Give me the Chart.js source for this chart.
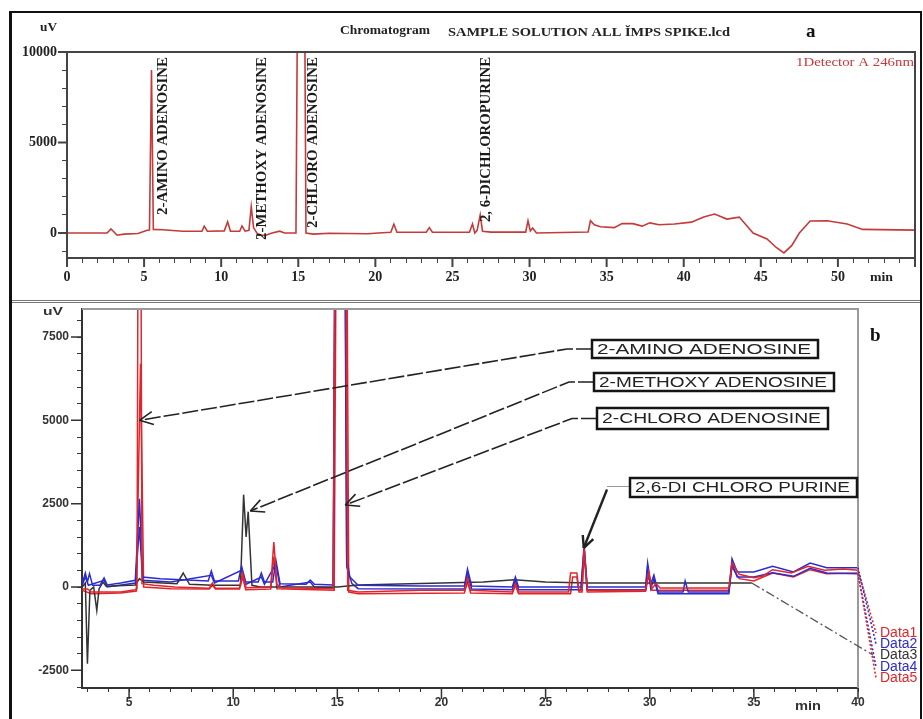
<!DOCTYPE html>
<html>
<head>
<meta charset="utf-8">
<script src="https://cdn.jsdelivr.net/npm/chart.js@4.4.1/dist/chart.umd.min.js"></script>
<style>
  html, body { margin: 0; padding: 0; background: #fff; }
  #wrap { position: relative; width: 923px; height: 719px; overflow: hidden; }
  #wrap canvas { position: absolute; left: 0; top: 0; }
  .frame { position: absolute; left: 9px; top: 11px; width: 913px; height: 730px; border: 2px solid #111; border-left-width: 3px; box-sizing: border-box; }
  .divider { position: absolute; left: 12px; top: 300px; width: 908px; height: 1px; border-top: 1px solid #777; border-bottom: 1px solid #777; }
</style>
</head>
<body>
<div id="wrap">
  <div class="frame"></div>
  <div class="divider"></div>
  <canvas id="chartA" width="923" height="719"></canvas>
  <canvas id="chartB" width="923" height="719"></canvas>
</div>
<script>
// ---- panel a : single detector trace (min, uV) ----
const aTrace = [
  [0, 0], [2.6, 0], [2.85, 230], [3.05, 60], [3.25, -120], [3.7, -60], [4.6, -30], [5.2, 150], [5.35, 170], [5.48, 9000], [5.6, 200],
  [6.2, 180], [7.5, 100], [8.75, 100], [8.9, 380], [9.1, 100], [10.2, 120], [10.42, 620], [10.6, 100], [11.2, 100], [11.35, 390], [11.55, 100],
  [11.8, 150], [11.95, 1450], [12.1, 300], [12.4, -120], [12.9, -120], [13.3, 0], [13.8, 100], [14.1, 0],
  [14.85, 0], [15.2, 45000], [15.5, 0], [16.0, -60], [17.0, -10], [19.5, -40], [20.2, 0], [21.0, 40], [21.2, 480], [21.4, 40],
  [23.3, 40], [23.5, 300], [23.7, 40], [26.1, 40], [26.3, 500], [26.45, 0], [26.6, 150], [26.8, 1000], [26.95, 100], [27.5, 50], [28.6, 50],
  [29.75, 50], [29.9, 680], [30.05, 120], [30.2, 280], [30.45, 0], [33.8, 60], [33.95, 680], [34.2, 450], [34.6, 350], [35.5, 300],
  [36.0, 520], [36.7, 520], [37.3, 380], [37.8, 560], [38.4, 460], [39.4, 500], [40.5, 600], [41.3, 880], [42.0, 1050], [42.8, 770],
  [43.6, 880], [44.5, 0], [45.4, -330], [46.0, -800], [46.5, -1100], [47.0, -700], [47.5, 0], [48.2, 660], [49.3, 680], [50.6, 500],
  [51.6, 200], [55, 160]
];
const aXTicks = [0,1,2,3,4,5,6,7,8,9,10,11,12,13,14,15,16,17,18,19,20,21,22,23,24,25,26,27,28,29,30,31,32,33,34,35,36,37,38,39,40,41,42,43,44,45,46,47,48,49,50,51,52,53,54,55];
const aYTicks = [-1000, 0, 1000, 2000, 3000, 4000, 5000, 6000, 7000, 8000, 9000, 10000];
const aPeakNames = ['2-AMINO ADENOSINE', '2-METHOXY ADENOSINE', '2-CHLORO ADENOSINE', '2, 6-DICHLOROPURINE'];

// ---- panel b : five overlaid runs (min, uV) ----
const bData1 = [
  [2.75, -60], [3.0, -60], [3.2, -150], [4.6, -150], [5.3, -80], [5.38, -50], [5.5, 25000], [5.62, 100], [6.2, 50], [7.2, 0],
  [8.85, -40], [9.0, 120], [9.15, -40], [10.3, -40], [10.45, 420], [10.62, -20], [11.8, 0], [11.95, 1350], [12.1, 80], [12.3, -20],
  [14.8, -50], [15.15, 40000], [15.5, -100], [16.0, -150], [19.0, -100], [21.1, -100], [21.25, 270], [21.4, -100], [23.4, -150],
  [23.55, 100], [23.7, -150], [26.1, -150], [26.2, 420], [26.5, 420], [26.6, -100], [26.75, -100], [26.85, 1200], [27.0, -100],
  [29.8, -90], [29.95, 450], [30.1, -50], [30.3, 100], [30.5, -30], [33.8, -30], [33.95, 720], [34.3, 380], [35.0, 280], [35.4, 320],
  [35.9, 520], [36.8, 420], [37.6, 620], [38.4, 500], [39.3, 540], [40, 500]
];
const bData2 = [
  [2.75, 100], [2.9, 420], [3.0, 150], [3.1, 400], [3.25, 50], [3.6, 50], [3.8, 270], [3.95, 60], [4.6, 120], [5.3, 200], [5.5, 2650],
  [5.65, 300], [6.5, 250], [8.8, 180], [8.95, 480], [9.1, 180], [10.25, 180], [10.4, 630], [10.6, 150], [11.2, 150], [11.35, 420],
  [11.5, 150], [11.9, 150], [12.05, 800], [12.25, 100], [13.5, 80], [13.7, 210], [13.9, 80], [14.8, 60], [15.15, 40000], [15.45, 880],
  [15.6, 300], [16.0, 50], [19.0, 30], [21.1, 30], [21.25, 540], [21.45, 30], [23.4, 0], [23.55, 300], [23.7, 0], [26.7, 0],
  [26.85, 1250], [27.0, 0], [29.8, 0], [29.9, 720], [30.05, 100], [30.2, 360], [30.4, -150], [31.6, -150], [31.7, 180], [31.85, -150],
  [33.8, -150], [33.95, 850], [34.2, 450], [35.0, 450], [35.9, 620], [36.9, 450], [37.7, 720], [38.5, 580], [40, 580]
];
const bData3 = [
  [2.75, 0], [2.9, 120], [3.0, -2300], [3.12, -100], [3.3, 0], [3.45, -700], [3.56, -50], [3.75, 150], [3.9, 20], [5.3, 60],
  [5.5, 250], [5.7, 150], [7.3, 100], [7.6, 420], [7.9, 80], [9.0, 50], [10.35, 50], [10.5, 2770], [10.62, 1500], [10.72, 2260],
  [10.9, 50], [11.3, 0], [15.0, 0], [16.0, 60], [20.0, 120], [22.0, 150], [23.5, 220], [25.0, 150], [27.0, 120], [30.0, 120],
  [34.0, 120], [34.9, 120]
];
const bData4 = [
  [2.75, 50], [2.9, 300], [3.05, 50], [3.8, 200], [3.95, 0], [5.3, 120], [5.5, 1800], [5.65, 200], [7.0, 150], [8.95, 350], [9.1, 120],
  [10.4, 500], [10.6, 80], [11.35, 300], [11.5, 80], [12.05, 700], [12.25, 0], [13.7, 150], [13.9, 0], [14.8, -30], [15.1, 40000],
  [15.45, 600], [15.7, 100], [16.0, -50], [21.1, -60], [21.25, 400], [21.45, -60], [23.4, -80], [23.55, 200], [23.7, -80], [26.7, -80],
  [26.85, 1150], [27.0, -80], [29.8, -80], [29.9, 600], [30.05, -50], [30.2, 250], [30.4, -200], [33.8, -200], [33.95, 700], [34.2, 300],
  [35.0, 300], [35.9, 430], [36.9, 320], [37.7, 560], [38.5, 420], [40, 400]
];
const bData5 = [
  [2.75, -100], [3.2, -200], [4.6, -180], [5.35, -120], [5.55, 6700], [5.7, 0], [7.0, -50], [8.85, -60], [9.0, 50], [9.15, -60],
  [10.3, -60], [10.45, 300], [10.6, -80], [11.8, -60], [11.95, 900], [12.1, -50], [14.85, -100], [15.2, 40000], [15.55, -150],
  [16.0, -200], [21.1, -180], [21.25, 150], [21.4, -180], [23.4, -200], [23.55, 50], [23.7, -200], [26.2, -200], [26.3, 300],
  [26.5, 300], [26.6, -150], [26.75, -150], [26.85, 1000], [27.0, -150], [29.8, -130], [29.95, 350], [30.1, -100], [33.8, -100],
  [33.95, 600], [34.3, 250], [35.0, 180], [35.9, 420], [36.9, 300], [37.7, 520], [38.5, 400], [40, 420]
];
const bRunNames = ['Data1', 'Data2', 'Data3', 'Data4', 'Data5'];
const bColors = ['#e0262b', '#2b2bd0', '#333333', '#2b2bd0', '#e0262b'];
const bXTicks = [3,4,5,6,7,8,9,10,11,12,13,14,15,16,17,18,19,20,21,22,23,24,25,26,27,28,29,30,31,32,33,34,35,36,37,38,39,40];
const bYTicks = [-3000,-2500,-2000,-1500,-1000,-500,0,500,1000,1500,2000,2500,3000,3500,4000,4500,5000,5500,6000,6500,7000,7500,8000];
const bPeakNames = ['2-AMINO ADENOSINE', '2-METHOXY ADENOSINE', '2-CHLORO ADENOSINE', '2,6-DI CHLORO PURINE'];

// stretch a line of text to a given width
function fitText(ctx, text, x, y, w) {
  const m = ctx.measureText(text).width;
  ctx.save();
  ctx.translate(x, y);
  ctx.scale(w / m, 1);
  ctx.fillText(text, 0, 0);
  ctx.restore();
}

function majorTicks(ctx, chart, xMajors, yMajors, len) {
  const { chartArea: ca, scales: { x, y } } = chart;
  ctx.beginPath();
  xMajors.forEach(v => { const p = x.getPixelForValue(v); ctx.moveTo(p, ca.bottom); ctx.lineTo(p, ca.bottom + len); });
  yMajors.forEach(v => { const p = y.getPixelForValue(v); ctx.moveTo(ca.left - len, p); ctx.lineTo(ca.left, p); });
  ctx.stroke();
}

function arrow(ctx, pts, head) {
  ctx.beginPath();
  ctx.moveTo(pts[0][0], pts[0][1]);
  pts.slice(1).forEach(p => ctx.lineTo(p[0], p[1]));
  ctx.stroke();
  const [x1, y1] = pts[pts.length - 2];
  const [x2, y2] = pts[pts.length - 1];
  const a = Math.atan2(y2 - y1, x2 - x1);
  ctx.setLineDash([]);
  ctx.beginPath();
  [-1, 1].forEach(s => {
    ctx.moveTo(x2, y2);
    ctx.lineTo(x2 - head * Math.cos(a + s * 0.45), y2 - head * Math.sin(a + s * 0.45));
  });
  ctx.stroke();
}

const panelAExtras = {
  id: 'panelAExtras',
  afterDraw(chart) {
    const { ctx, chartArea: ca, scales: { x } } = chart;
    ctx.save();
    ctx.strokeStyle = '#444';
    ctx.lineWidth = 2;
    ctx.strokeRect(ca.left, ca.top, ca.right - ca.left, ca.bottom - ca.top);
    majorTicks(ctx, chart, [0, 5, 10, 15, 20, 25, 30, 35, 40, 45, 50, 55], [0, 5000, 10000], 9);

    ctx.fillStyle = '#222';
    ctx.textBaseline = 'middle';
    ctx.textAlign = 'left';
    ctx.font = 'bold 12px "Liberation Serif"';
    fitText(ctx, 'uV', 40, 28, 17);
    fitText(ctx, 'Chromatogram', 340, 31, 90);
    ctx.font = 'bold 13px "Liberation Serif"';
    fitText(ctx, 'SAMPLE SOLUTION ALL ĬMPS SPIKE.lcd', 448, 33, 282);
    ctx.font = 'bold 13px "Liberation Serif"';
    fitText(ctx, 'min', 870, 278, 23);
    ctx.font = 'bold 19px "Liberation Serif"';
    ctx.fillStyle = '#111';
    ctx.fillText('a', 806, 32);

    ctx.fillStyle = '#c43a3a';
    ctx.font = '13px "Liberation Serif"';
    fitText(ctx, '1Detector A 246nm', 796, 63, 118);

    // rotated peak names
    const labelAt = [6.25, 12.7, 15.95, 27.2];
    const labelLen = [158, 183, 171, 165];
    ctx.fillStyle = '#1a1a1a';
    ctx.font = 'bold 14px "Liberation Serif"';
    aPeakNames.forEach((name, i) => {
      const px = x.getPixelForValue(labelAt[i]);
      const m = ctx.measureText(name).width;
      ctx.save();
      ctx.translate(px, ca.top + 5);
      ctx.rotate(-Math.PI / 2);
      ctx.textAlign = 'right';
      ctx.scale(labelLen[i] / m, 1);
      ctx.fillText(name, 0, 0);
      ctx.restore();
    });
    ctx.restore();
  }
};

const panelBExtras = {
  id: 'panelBExtras',
  afterDraw(chart) {
    const { ctx, chartArea: ca, scales: { x, y } } = chart;
    ctx.save();
    // top / right frame of plot
    ctx.strokeStyle = '#9a9a9a';
    ctx.lineWidth = 2;
    ctx.beginPath();
    ctx.moveTo(ca.left, ca.top); ctx.lineTo(ca.right, ca.top); ctx.lineTo(ca.right, ca.bottom);
    ctx.stroke();
    ctx.strokeStyle = '#333';
    ctx.lineWidth = 1.5;
    majorTicks(ctx, chart, [5, 10, 15, 20, 25, 30, 35, 40], [-2500, 0, 2500, 5000, 7500], 11);

    ctx.fillStyle = '#333';
    ctx.textBaseline = 'middle';
    ctx.textAlign = 'left';
    ctx.font = 'bold 11px "Liberation Sans"';
    fitText(ctx, 'uV', 43, 312, 20);
    ctx.font = 'bold 13px "Liberation Sans"';
    fitText(ctx, 'min', 795, 706, 26);
    ctx.fillStyle = '#111';
    ctx.font = 'bold 19px "Liberation Serif"';
    ctx.fillText('b', 870, 336);

    // labelled boxes with arrows
    const boxes = [
      { x: 592, y: 340, w: 226, h: 18 },
      { x: 594, y: 373, w: 240, h: 18 },
      { x: 597, y: 408, w: 231, h: 21 },
      { x: 630, y: 478, w: 227, h: 19 }
    ];
    const tips = [[5.5, 5000], [10.82, 2280], [15.38, 2460], [26.83, 1170]];
    ctx.strokeStyle = '#222';
    ctx.lineWidth = 1.6;
    tips.forEach((t, i) => {
      const b = boxes[i];
      const tip = [x.getPixelForValue(t[0]), y.getPixelForValue(t[1])];
      const my = b.y + b.h / 2;
      if (i < 3) {
        ctx.setLineDash([16, 3]);
        ctx.lineWidth = 1.6;
        arrow(ctx, [[b.x, my], [b.x - 25, my], tip], 15);
      } else {
        ctx.setLineDash([]);
        ctx.strokeStyle = '#999';
        ctx.lineWidth = 1;
        ctx.beginPath(); ctx.moveTo(b.x, my - 1); ctx.lineTo(b.x - 23, my - 1); ctx.stroke();
        ctx.strokeStyle = '#222';
        ctx.lineWidth = 2.4;
        arrow(ctx, [[b.x - 23, my + 2], tip], 13);
      }
    });
    ctx.setLineDash([]);
    boxes.forEach((b, i) => {
      ctx.fillStyle = '#fff';
      ctx.fillRect(b.x, b.y, b.w, b.h);
      ctx.strokeStyle = '#151515';
      ctx.lineWidth = 2.5;
      ctx.strokeRect(b.x, b.y, b.w, b.h);
      ctx.fillStyle = '#222';
      ctx.font = '14px "Liberation Sans"';
      fitText(ctx, bPeakNames[i], b.x + 5, b.y + b.h / 2 + 1, b.w - 12);
    });

    // legend leaders from each run's end
    const legendY = [633, 644, 655, 667, 678];
    chart.data.datasets.forEach((ds, i) => {
      const last = ds.data[ds.data.length - 1];
      const px = x.getPixelForValue(last[0]);
      const py = y.getPixelForValue(last[1]);
      ctx.strokeStyle = i === 2 ? '#555' : bColors[i];
      ctx.lineWidth = i === 2 ? 1.3 : 1.6;
      ctx.setLineDash(i === 2 ? [9, 3, 2, 3] : [2, 2]);
      ctx.beginPath();
      ctx.moveTo(px, py);
      ctx.lineTo(i === 2 ? 873 : 876, legendY[i]);
      ctx.stroke();
      ctx.setLineDash([]);
      ctx.fillStyle = bColors[i];
      ctx.font = '14px "Liberation Sans"';
      ctx.fillText(bRunNames[i], 880, legendY[i]);
    });
    ctx.restore();
  }
};

new Chart(document.getElementById('chartA'), {
  type: 'line',
  data: {
    datasets: [{ data: aTrace, borderColor: '#c43a3a', borderWidth: 1.6, pointRadius: 0, tension: 0 }]
  },
  options: {
    responsive: false,
    animation: false,
    events: [],
    layout: { padding: { left: 12, top: 52, right: 8, bottom: 431 } },
    plugins: { legend: { display: false }, tooltip: { enabled: false } },
    scales: {
      x: {
        type: 'linear', min: 0, max: 55,
        afterBuildTicks: s => { s.ticks = aXTicks.map(v => ({ value: v })); },
        afterFit: s => { s.height = 30; },
        grid: { drawOnChartArea: false, tickLength: 5, color: '#444' },
        border: { color: '#444', width: 2 },
        ticks: {
          autoSkip: false, maxRotation: 0, padding: 6, color: '#222',
          font: { family: 'Liberation Serif', size: 14, weight: 'bold' },
          callback: v => (v % 5 === 0 && v < 55 ? v : '')
        }
      },
      y: {
        min: -1380, max: 10000,
        afterBuildTicks: s => { s.ticks = aYTicks.map(v => ({ value: v })); },
        afterFit: s => { s.width = 55; },
        grid: { drawOnChartArea: false, tickLength: 5, color: '#444' },
        border: { color: '#444', width: 2 },
        ticks: {
          autoSkip: false, padding: 5, color: '#222',
          font: { family: 'Liberation Serif', size: 14, weight: 'bold' },
          callback: v => (v % 5000 === 0 ? v : '')
        }
      }
    }
  },
  plugins: [panelAExtras]
});

const bRuns = [bData1, bData2, bData3, bData4, bData5];
new Chart(document.getElementById('chartB'), {
  type: 'line',
  data: {
    datasets: bRuns.map((run, i) => ({
      label: bRunNames[i], data: run, borderColor: bColors[i],
      borderWidth: 1.5, pointRadius: 0, tension: 0
    }))
  },
  options: {
    responsive: false,
    animation: false,
    events: [],
    layout: { padding: { left: 12, top: 309, right: 65, bottom: 3 } },
    plugins: { legend: { display: false }, tooltip: { enabled: false } },
    scales: {
      x: {
        type: 'linear', min: 2.74, max: 40,
        afterBuildTicks: s => { s.ticks = bXTicks.map(v => ({ value: v })); },
        afterFit: s => { s.height = 28; },
        grid: { drawOnChartArea: false, tickLength: 4, color: '#333' },
        border: { color: '#333', width: 2 },
        ticks: {
          autoSkip: false, maxRotation: 0, padding: 3, color: '#333',
          font: { family: 'Liberation Sans', size: 12, weight: 'bold' },
          callback: v => (v % 5 === 0 ? v : '')
        }
      },
      y: {
        min: -3030, max: 8340,
        afterBuildTicks: s => { s.ticks = bYTicks.map(v => ({ value: v })); },
        afterFit: s => { s.width = 70; },
        grid: { drawOnChartArea: false, tickLength: 5, color: '#333' },
        border: { color: '#333', width: 2 },
        ticks: {
          autoSkip: false, padding: 8, color: '#333',
          font: { family: 'Liberation Sans', size: 12, weight: 'bold' },
          callback: v => (v % 2500 === 0 ? v : '')
        }
      }
    }
  },
  plugins: [panelBExtras]
});
</script>
</body>
</html>
